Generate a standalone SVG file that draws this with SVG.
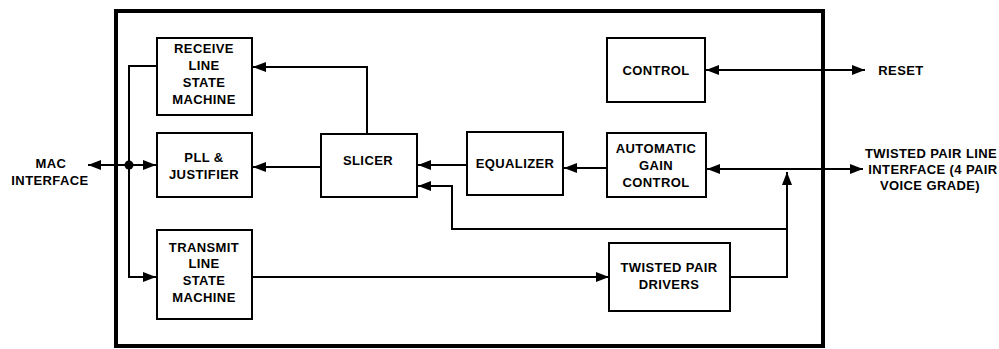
<svg xmlns="http://www.w3.org/2000/svg" width="999" height="349" viewBox="0 0 999 349">
<style>
  .box { fill: #fff; stroke: #000; stroke-width: 2; }
  .frame { fill: none; stroke: #000; stroke-width: 4; }
  .wire { fill: none; stroke: #000; stroke-width: 2; }
  text { font-family: "Liberation Sans", Arial, sans-serif; font-size: 13px; font-weight: bold; fill: #000; text-anchor: middle; letter-spacing: 0.4px; }
</style>
<defs>
  <marker id="arr" markerUnits="userSpaceOnUse" markerWidth="14" markerHeight="10" refX="13" refY="5" orient="auto-start-reverse">
    <path d="M0,0 L13,5 L0,10 z" fill="#000"/>
  </marker>
</defs>
<rect width="999" height="349" fill="#fff"/>
<rect id="frame" class="frame" x="116" y="11" width="707" height="335"/>

<g id="connectors">
  <path class="wire" d="M157,66 H129 V277 H156" marker-end="url(#arr)"/>
  <path class="wire" d="M129,165 H156" marker-end="url(#arr)"/>
  <path class="wire" d="M129,165 H88" marker-end="url(#arr)"/>
  <circle cx="129" cy="165" r="4.5" fill="#000"/>
  <path class="wire" d="M367,134 V67 H253" marker-end="url(#arr)"/>
  <path class="wire" d="M321,167 H253" marker-end="url(#arr)"/>
  <path class="wire" d="M467,165 H418" marker-end="url(#arr)"/>
  <path class="wire" d="M607,168 H564" marker-end="url(#arr)"/>
  <path class="wire" d="M707,169 H863" marker-start="url(#arr)" marker-end="url(#arr)"/>
  <path class="wire" d="M706,70 H865" marker-start="url(#arr)" marker-end="url(#arr)"/>
  <path class="wire" d="M730,277 H787 V172" marker-end="url(#arr)"/>
  <path class="wire" d="M787,229 H452 V186 H418" marker-end="url(#arr)"/>
  <path class="wire" d="M252,277 H609" marker-end="url(#arr)"/>
</g>

<g id="receive">
  <rect class="box" x="157" y="38" width="95" height="77"/>
  <text x="204" y="53">RECEIVE</text>
  <text x="204" y="70">LINE</text>
  <text x="204" y="87">STATE</text>
  <text x="204" y="104">MACHINE</text>
</g>
<g id="pll">
  <rect class="box" x="157" y="133" width="95" height="64"/>
  <text x="204" y="162">PLL &amp;</text>
  <text x="204" y="179">JUSTIFIER</text>
</g>
<g id="transmit">
  <rect class="box" x="157" y="230" width="95" height="89"/>
  <text x="204" y="252">TRANSMIT</text>
  <text x="204" y="268">LINE</text>
  <text x="204" y="285">STATE</text>
  <text x="204" y="302">MACHINE</text>
</g>
<g id="slicer">
  <rect class="box" x="321" y="134" width="96" height="63"/>
  <text x="368" y="165">SLICER</text>
</g>
<g id="equalizer">
  <rect class="box" x="467" y="132" width="96" height="63"/>
  <text x="515" y="168">EQUALIZER</text>
</g>
<g id="agc">
  <rect class="box" x="607" y="133" width="99" height="64"/>
  <text x="656" y="153">AUTOMATIC</text>
  <text x="656" y="170">GAIN</text>
  <text x="656" y="187">CONTROL</text>
</g>
<g id="control">
  <rect class="box" x="607" y="38" width="98" height="64"/>
  <text x="656" y="75">CONTROL</text>
</g>
<g id="drivers">
  <rect class="box" x="609" y="243" width="121" height="68"/>
  <text x="669" y="272">TWISTED PAIR</text>
  <text x="669" y="289">DRIVERS</text>
</g>
<g id="mac">
  <text x="51" y="168">MAC</text>
  <text x="50" y="185">INTERFACE</text>
</g>
<g id="reset">
  <text x="901" y="75">RESET</text>
</g>
<g id="tpline">
  <text x="931" y="158">TWISTED PAIR LINE</text>
  <text x="933" y="174">INTERFACE (4 PAIR</text>
  <text x="930" y="190">VOICE GRADE)</text>
</g>
</svg>
